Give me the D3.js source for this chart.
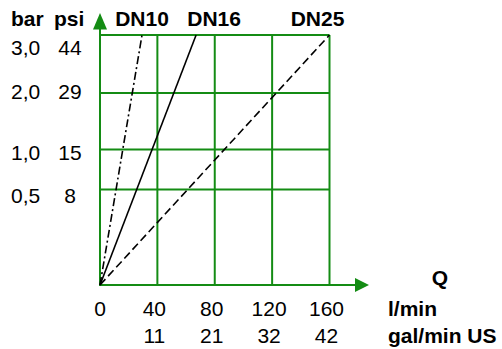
<!DOCTYPE html>
<html>
<head>
<meta charset="utf-8">
<script src="https://cdn.jsdelivr.net/npm/d3@7"></script>
<style>
  html, body { margin: 0; padding: 0; background: #fff; }
  text { font-family: "Liberation Sans", Arial, sans-serif; fill: #000; font-size: 21px; }
</style>
</head>
<body>
<div id="chart"></div>
<script>
// flow Q in l/min and the matching gal/min US labels
const flowTicks = [0, 40, 80, 120, 160];
const galLabels = ["", "11", "21", "32", "42"];

// pressure in bar and the matching psi labels
const barTicks = [0.5, 1, 2, 3];
const barLabels = ["0,5", "1,0", "2,0", "3,0"];
const psiLabels = ["8", "15", "29", "44"];
const barGrid = [0.5, 1, 2];
const barMax = 3.25; // top edge of the grid

// pressure drop lines: [Q, bar] end points
const seriesNames = ["DN10", "DN16", "DN25"];
const seriesPoints = [
  [[0, 0], [29.3, barMax]],
  [[0, 0], [67, barMax]],
  [[0, 0], [160, barMax]]
];
const seriesDash = ["8,3,2,3", null, "8,4"];

const width = 502, height = 349;
const green = "#148c14";

const svg = d3.select("#chart").append("svg")
  .attr("width", width)
  .attr("height", height);

const x = d3.scaleLinear().domain([0, 160]).range([100, 329.5]);
// the diagram's pressure axis is not linear, so map it piecewise
const y = d3.scaleLinear()
  .domain([0, 0.5, 1, 2, 3, barMax])
  .range([285, 189.5, 149.5, 93, 49, 35]);

// grid
const grid = svg.append("g").attr("stroke", green).attr("stroke-width", 2);
grid.selectAll("line.v")
  .data(flowTicks.slice(1))
  .join("line")
  .attr("class", "v")
  .attr("x1", d => x(d)).attr("x2", d => x(d))
  .attr("y1", y(0)).attr("y2", y(barMax));
grid.selectAll("line.h")
  .data(barGrid.concat([barMax]))
  .join("line")
  .attr("class", "h")
  .attr("x1", x(0)).attr("x2", x(160))
  .attr("y1", d => y(d)).attr("y2", d => y(d));

// axes with arrow heads
grid.append("line")
  .attr("x1", x(0)).attr("x2", x(0))
  .attr("y1", y(0) + 1).attr("y2", 28);
grid.append("line")
  .attr("x1", x(0) - 1).attr("x2", 357)
  .attr("y1", y(0)).attr("y2", y(0));
svg.append("path")
  .attr("fill", green)
  .attr("d", `M${x(0)},13L${x(0) + 7},29.5L${x(0) - 7},29.5Z`);
svg.append("path")
  .attr("fill", green)
  .attr("d", `M369,${y(0)}L355,${y(0) - 7}L355,${y(0) + 7}Z`);

// series lines
const line = d3.line().x(d => x(d[0])).y(d => y(d[1]));
svg.selectAll("path.series")
  .data(seriesPoints)
  .join("path")
  .attr("class", "series")
  .attr("d", line)
  .attr("fill", "none")
  .attr("stroke", "#000")
  .attr("stroke-width", 1.6)
  .attr("stroke-dasharray", (d, i) => seriesDash[i]);

// series labels above the grid
const labelDx = [0, 18, -12];
svg.selectAll("text.dn")
  .data(seriesNames)
  .join("text")
  .attr("class", "dn")
  .attr("x", (d, i) => x(seriesPoints[i][1][0]) + labelDx[i])
  .attr("y", 26)
  .attr("text-anchor", "middle")
  .style("font-weight", "bold")
  .text(d => d);

// y labels
svg.append("text").attr("x", 11).attr("y", 26)
  .style("font-weight", "bold").text("bar");
svg.append("text").attr("x", 54).attr("y", 26)
  .style("font-weight", "bold").text("psi");

// labels sit a bit under their grid lines in the original
const labelDy = [13.5, 10.5, 6, 6];
svg.selectAll("text.bar")
  .data(barTicks)
  .join("text")
  .attr("class", "bar")
  .attr("x", 11)
  .attr("y", (d, i) => y(d) + labelDy[i])
  .text((d, i) => barLabels[i]);
svg.selectAll("text.psi")
  .data(barTicks)
  .join("text")
  .attr("class", "psi")
  .attr("x", 70)
  .attr("y", (d, i) => y(d) + labelDy[i])
  .attr("text-anchor", "middle")
  .text((d, i) => psiLabels[i]);

// x labels
svg.selectAll("text.lmin")
  .data(flowTicks)
  .join("text")
  .attr("class", "lmin")
  .attr("x", d => x(d) + (d === 0 ? 0 : -3))
  .attr("y", 316)
  .attr("text-anchor", "middle")
  .text(d => d);
svg.selectAll("text.gal")
  .data(flowTicks)
  .join("text")
  .attr("class", "gal")
  .attr("x", d => x(d) - 3)
  .attr("y", 343)
  .attr("text-anchor", "middle")
  .text((d, i) => galLabels[i]);

svg.append("text").attr("x", 440).attr("y", 285).attr("text-anchor", "middle")
  .style("font-weight", "bold").text("Q");
svg.append("text").attr("x", 388).attr("y", 316)
  .style("font-weight", "bold").text("l/min");
svg.append("text").attr("x", 388).attr("y", 343)
  .style("font-weight", "bold").text("gal/min US");
</script>
</body>
</html>
